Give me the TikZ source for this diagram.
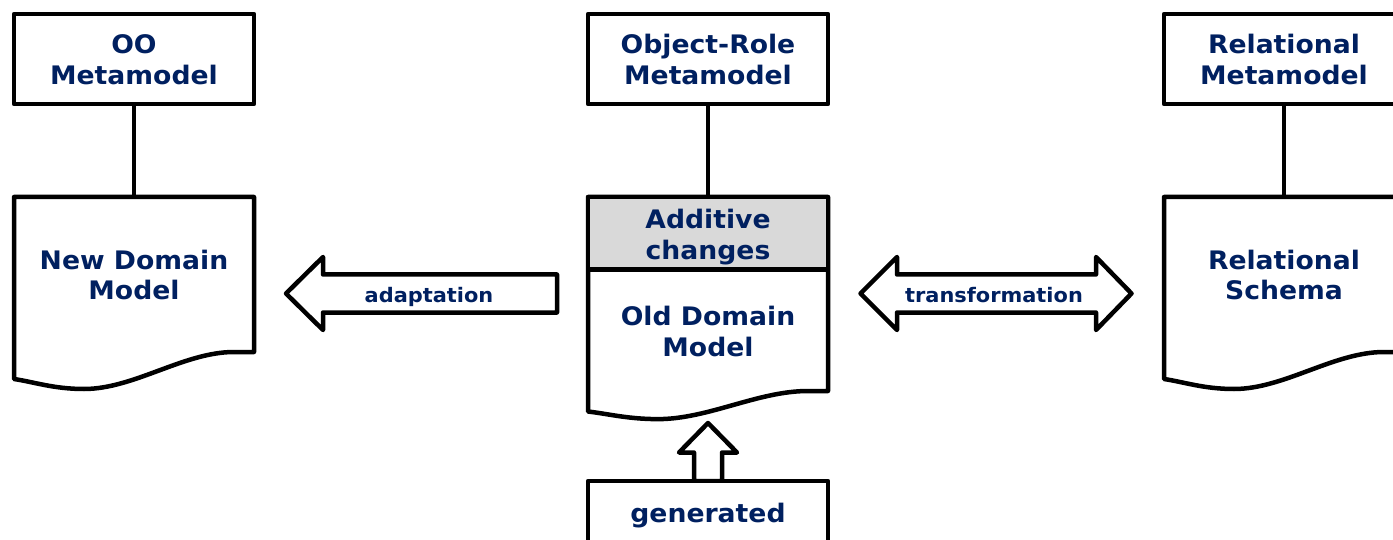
\documentclass[tikz,border=0pt]{standalone}
\usepackage{fontspec}
\setmainfont{DejaVu Sans}[FakeStretch=1.045]
\usetikzlibrary{calc}

\definecolor{navy}{RGB}{0,32,96}
\definecolor{bandgrey}{RGB}{217,217,217}

% document outline: left x, right x, top y, right bottom y, wave amplitude
\newcommand\docoutline[5]{%
  \draw[docline] (#1,#3) -- (#2,#3) -- (#2,#4) -- ({#2-20},#4)
    .. controls ({#2-70},#4) and ({#1+120},{#4+37*#5}) .. ({#1+70},{#4+37*#5})
    .. controls ({#1+40},{#4+37*#5}) and ({#1+20},{#4+30*#5}) .. (#1,{#4+27*#5})
    -- cycle;}

% centred lines of text whose first baseline sits #1 above the node centre
\newcommand\boxlines[2]{\raisebox{#1}{\begin{tabular}[t]{@{}c@{}}#2\end{tabular}}}

\tikzset{
  outline/.style={draw=black, line width=4.5pt, line join=round, fill=white},
  docline/.style={outline},
  boxtext/.style={text=navy, font=\bfseries\fontsize{25.5pt}{31pt}\selectfont,
    text height=0pt, text depth=0pt},
  metabox/.style={outline, boxtext, minimum width=240pt, minimum height=90pt, inner sep=0pt},
  bandbox/.style={outline, boxtext, fill=bandgrey, minimum width=240pt, minimum height=72.5pt, inner sep=0pt},
  docbody/.style={boxtext, minimum width=240pt, inner sep=0pt},
  link/.style={draw=black, line width=4.5pt},
  blockarrow/.style={outline},
  lbl/.style={text=navy, font=\bfseries\fontsize{20pt}{24pt}\selectfont, inner sep=0pt},
}

\begin{document}
\begin{tikzpicture}[x=1pt, y=-1pt]
\useasboundingbox (0,0) rectangle (1393,540);
\fill[white] (0,0) rectangle (1393,540);
\clip (0,0) rectangle (1393,540);

% metamodels
\node[metabox] (oo)    at (134,59)  {\boxlines{5pt}{OO\\Metamodel}};
\node[metabox] (orm)   at (708,59)  {\boxlines{5pt}{Object-Role\\Metamodel}};
\node[metabox] (relmm) at (1284,59) {\boxlines{5pt}{Relational\\Metamodel}};

% domain documents
\docoutline{14}{254}{197}{352}{1}
\node[docbody, minimum height=155pt] (newdm) at (134,274.5) {\boxlines{5.5pt}{New Domain\\Model}};

\docoutline{588}{828}{197}{391}{0.76}
\node[bandbox] (add) at (708,233.25) {\boxlines{4.75pt}{Additive\\changes}};
\node[docbody, minimum height=121.5pt] (olddm) at (708,331) {\boxlines{5.5pt}{Old Domain\\Model}};

\docoutline{1164}{1404}{197}{352}{1}
\node[docbody, minimum height=155pt] (relsch) at (1284,274.5) {\boxlines{5.5pt}{Relational\\Schema}};

% metamodel links
\draw[link] (oo) -- (newdm);
\draw[link] (orm) -- (add);
\draw[link] (relmm) -- (relsch);

% adaptation arrow
\draw[blockarrow] (286,293.5) -- (323,257) -- (323,274.5) -- (557,274.5)
  -- (557,312.5) -- (323,312.5) -- (323,330) -- cycle;
\node[lbl, anchor=base] (adapt) at (429,302.5) {adaptation};

% transformation arrow
\draw[blockarrow] (860.5,293.5) -- (897,257) -- (897,274.5) -- (1096,274.5)
  -- (1096,257) -- (1131.5,293.5) -- (1096,330) -- (1096,312.5)
  -- (897,312.5) -- (897,330) -- cycle;
\node[lbl, anchor=base] (transf) at (994,302.5) {transformation};

% generated arrow and source box
\draw[blockarrow] (708,423) -- (737,452.5) -- (722,452.5) -- (722,481)
  -- (694,481) -- (694,452.5) -- (679,452.5) -- cycle;
\node[metabox, minimum height=68pt] (gen) at (708,515) {\boxlines{-7pt}{generated}};
\end{tikzpicture}
\end{document}
